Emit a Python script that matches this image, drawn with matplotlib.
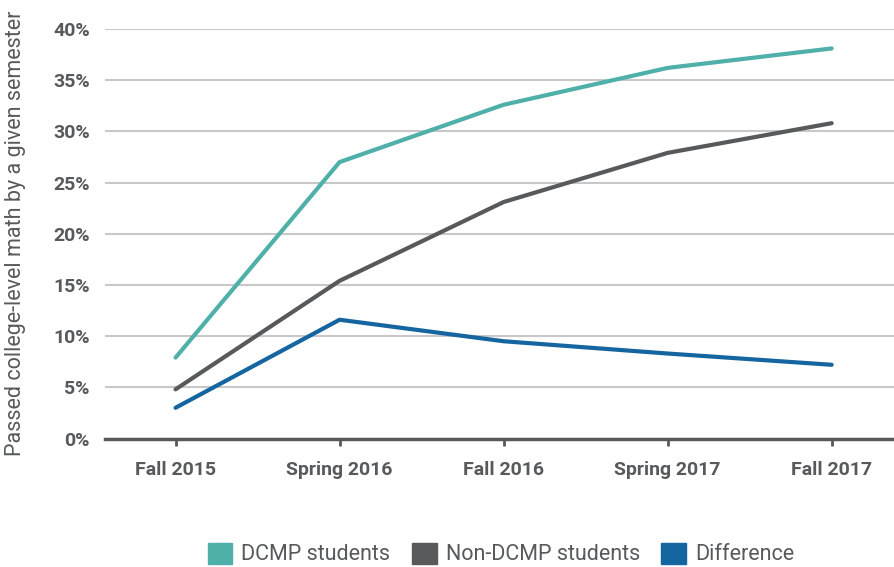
import matplotlib.pyplot as plt
from matplotlib.patches import Patch
from matplotlib.ticker import FuncFormatter

semesters = ["Fall 2015", "Spring 2016", "Fall 2016", "Spring 2017", "Fall 2017"]
dcmp = [7.9, 27.0, 32.6, 36.2, 38.1]
non_dcmp = [4.8, 15.4, 23.1, 27.9, 30.8]
difference = [3.0, 11.6, 9.5, 8.3, 7.2]

TEAL = "#4FB0A9"
GRAY = "#58595B"
BLUE = "#1565A0"

plt.rcParams["font.family"] = ["Roboto", "DejaVu Sans"]

fig = plt.figure(figsize=(8.94, 5.67), dpi=100)
ax = fig.add_axes([105 / 894, 1 - 438.5 / 567, 1 - 105 / 894, (438.5 - 29) / 567])

x = range(len(semesters))
ax.plot(x, dcmp, color=TEAL, lw=3, solid_capstyle="round", zorder=3)
ax.plot(x, non_dcmp, color=GRAY, lw=3, solid_capstyle="round", zorder=3)
ax.plot(x, difference, color=BLUE, lw=3, solid_capstyle="round", zorder=3)

ax.set_xlim(-0.43, 4.38)
ax.set_ylim(0, 40)
ax.set_yticks(range(0, 41, 5))
ax.yaxis.set_major_formatter(FuncFormatter(lambda v, p: f"{v:.0f}%"))
ax.set_xticks(list(x))
ax.set_xticklabels(semesters)

ax.grid(axis="y", color="#C8C8C8", lw=1.5)
ax.set_axisbelow(True)
for s in ["top", "right", "left"]:
    ax.spines[s].set_visible(False)
ax.spines["bottom"].set_color(GRAY)
ax.spines["bottom"].set_linewidth(2.5)
ax.spines["bottom"].set_zorder(4)

ax.tick_params(axis="y", length=0, pad=11, labelsize=14, labelcolor=GRAY)
ax.tick_params(axis="x", length=5, width=2, color=GRAY, pad=11, labelsize=14, labelcolor=GRAY)
for lbl in ax.get_xticklabels() + ax.get_yticklabels():
    lbl.set_fontweight("bold")

ax.set_ylabel("Passed college-level math by a given semester", fontsize=15.5,
              color=GRAY, fontweight="normal")
ax.yaxis.set_label_coords(-79 / 789, 0.5)

handles = [Patch(color=TEAL, label="DCMP students"),
           Patch(color=GRAY, label="Non-DCMP students"),
           Patch(color=BLUE, label="Difference")]
leg = fig.legend(handles=handles, loc="center", bbox_to_anchor=(501 / 894, 1 - 554 / 567),
                 ncol=3, frameon=False, handlelength=1.15, handleheight=1.15,
                 handletextpad=0.42, columnspacing=1.0, fontsize=15.5)
for t in leg.get_texts():
    t.set_color(GRAY)

fig.savefig("out.png", dpi=100)
